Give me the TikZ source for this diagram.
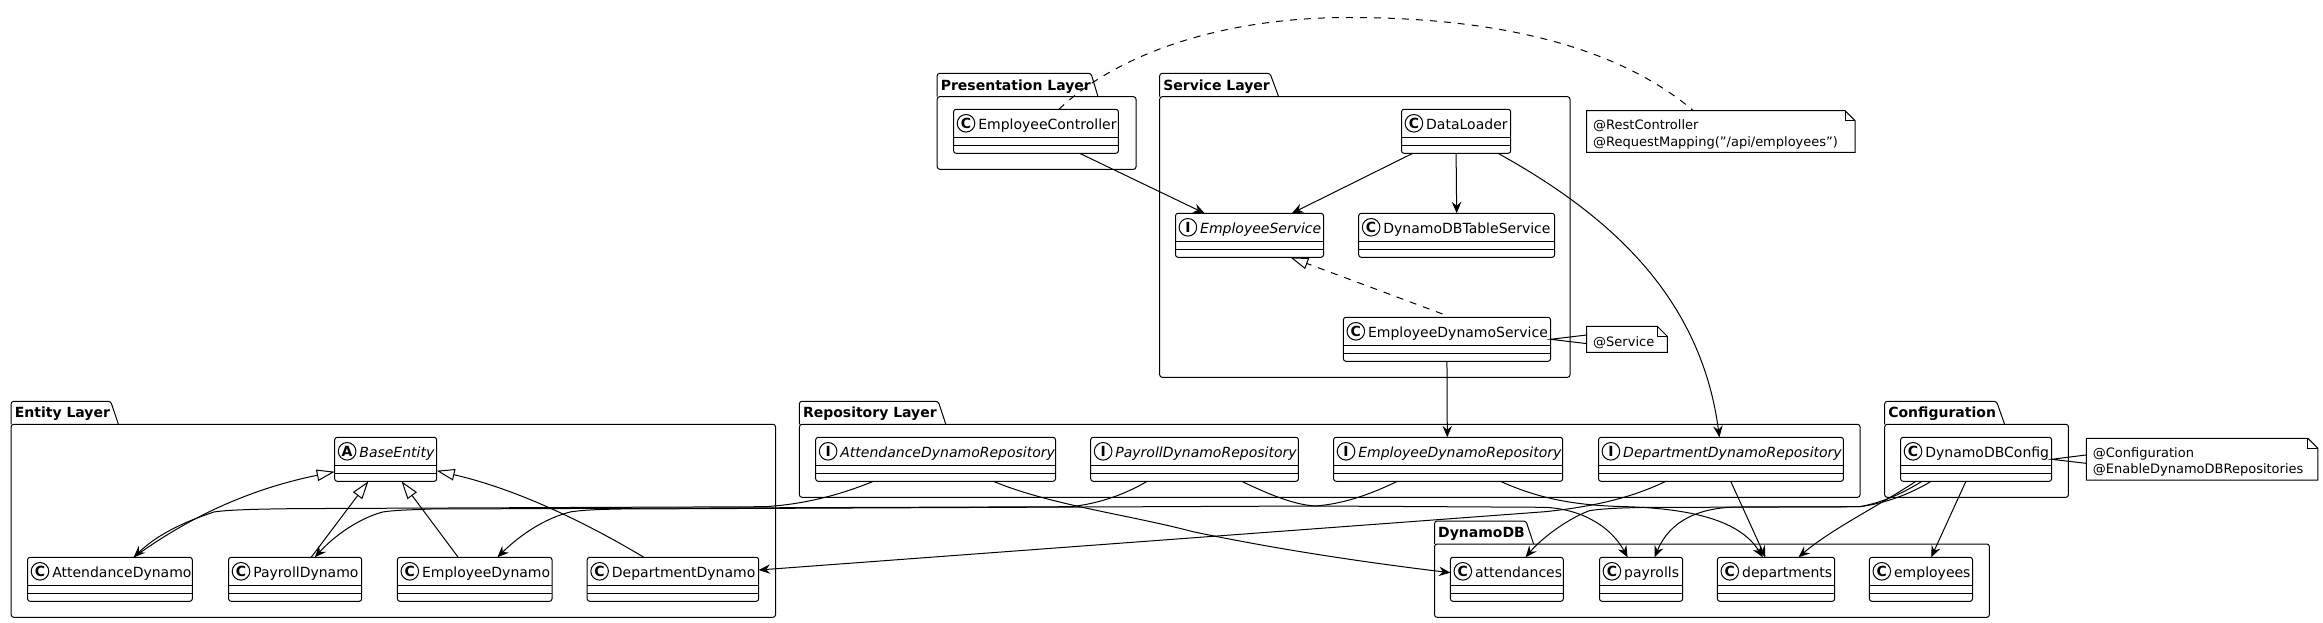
\documentclass[tikz,border=0pt]{standalone}
\usepackage{fontspec}
\setmainfont{DejaVu Sans}
\usetikzlibrary{arrows.meta}
\newcommand{\fclass}{\fontsize{14}{16}\selectfont}
\newcommand{\fnote}{\fontsize{13}{16.5}\selectfont}
\tikzset{
  umlline/.style={line width=1pt,black},
  classbox/.style={umlline,draw,fill=white,rectangle,rounded corners=2.5pt,inner sep=0pt,outer sep=0pt,minimum height=44pt,anchor=north west},
  letterc/.style={umlline,draw,fill=white,circle,inner sep=0pt,outer sep=0pt,minimum size=17.6pt,font=\bfseries\fontsize{14}{14}\selectfont},
  labeltext/.style={inner sep=0pt,outer sep=0pt,anchor=base west},
  noderect/.style={rectangle,inner sep=0pt,outer sep=0pt,anchor=north west},
  dep/.style={umlline,-{Stealth[length=11.5pt,width=9.5pt,inset=4pt]}},
  inh/.style={umlline,-{Triangle[open,fill=white,length=18pt,width=11.5pt]}},
  dashline/.style={umlline,dash pattern=on 7pt off 7pt},
}
\newcommand{\umlclass}[7]{%
  \pgfmathsetmacro{\boxw}{#3-#2}
  \node[classbox,minimum width=\boxw pt] (#1) at (#2,#4) {};
  \draw[umlline] ([yshift=-28pt]#1.north west) -- ([yshift=-28pt]#1.north east);
  \draw[umlline] ([yshift=-36pt]#1.north west) -- ([yshift=-36pt]#1.north east);
  \node[letterc] (#1-l) at ([xshift=12.4pt,yshift=-14pt]#1.north west) {#5};
  \node[labeltext] (#1-t) at ([xshift=24.7pt,yshift=-20pt]#1.north west) {\fclass#6{}#7};
}
% name, left, right, tabtop, bodytop, bottom, tab right top, tab right bottom, title
\newcommand{\umlpkg}[9]{%
  \pgfmathsetmacro{\boxw}{#3-#2}
  \pgfmathsetmacro{\boxh}{#6-#5}
  \node[noderect,umlline,draw,rounded corners=2.5pt,minimum width=\boxw pt,minimum height=\boxh pt] (#1) at (#2,#5) {};
  \draw[umlline,rounded corners=2.5pt] (#2,#5) -- (#2,#4) -- (#7,#4) -- (#8,#5);
  \node[labeltext] (#1-t) at (#2+3.6,#5-6.4) {\fclass\bfseries #9};
}
% name, left, right, top, bottom, text
\newcommand{\umlnote}[6]{%
  \pgfmathsetmacro{\boxw}{#3-#2}
  \pgfmathsetmacro{\boxh}{#5-#4}
  \node[noderect,minimum width=\boxw pt,minimum height=\boxh pt] (#1) at (#2,#4) {};
  \draw[umlline,line join=miter] (#1.north west) -- ([xshift=-10pt]#1.north east) -- ([yshift=-10pt]#1.north east) -- (#1.south east) -- (#1.south west) -- cycle;
  \draw[umlline,line join=miter] ([xshift=-10pt]#1.north east) -- ([xshift=-10pt,yshift=-10pt]#1.north east) -- ([yshift=-10pt]#1.north east);
  \node[anchor=west,inner sep=0pt,outer sep=0pt,align=left,font=\fnote] (#1-t) at ([xshift=6.5pt,yshift=-3pt]#1.west) {#6};
}
\begin{document}
\begin{tikzpicture}[x=1pt,y=-1pt]
\useasboundingbox (0,0) rectangle (2323,623);
\fill[white] (0,0) rectangle (2323,623);

% packages
\umlpkg{pres}{937.2}{1136}{73.3}{96.7}{169.3}{1091}{1098}{Presentation Layer}
\umlpkg{serv}{1159.7}{1570}{73.3}{96.7}{377.3}{1270}{1278.6}{Service Layer}
\umlpkg{enti}{11.2}{775.5}{401.3}{424.3}{617.3}{110.7}{118.4}{Entity Layer}
\umlpkg{repo}{799.4}{1860}{401.3}{424.3}{497.3}{938.2}{945.8}{Repository Layer}
\umlpkg{conf}{1884.7}{2068.4}{401.3}{424.3}{497.3}{1996.5}{2004.6}{Configuration}
\umlpkg{dyna}{1434.6}{1989.3}{521}{544}{617.3}{1526}{1533.6}{DynamoDB}

% classes
\umlclass{ec}{953.6}{1118.4}{109.3}{C}{}{EmployeeController}
\umlclass{dl}{1401.5}{1510.7}{109.3}{C}{}{DataLoader}
\umlclass{es}{1175.5}{1323.5}{213.3}{I}{\itshape}{EmployeeService}
\umlclass{dbt}{1358.7}{1554.6}{213.3}{C}{}{DynamoDBTableService}
\umlclass{eds}{1343.4}{1550.5}{317.3}{C}{}{EmployeeDynamoService}
\umlclass{base}{334.7}{436.7}{437.3}{A}{\itshape}{BaseEntity}
\umlclass{attd}{27.6}{192.3}{557.3}{C}{}{AttendanceDynamo}
\umlclass{payd}{228.6}{361.7}{557.3}{C}{}{PayrollDynamo}
\umlclass{empd}{397.4}{552}{557.3}{C}{}{EmployeeDynamo}
\umlclass{depd}{587.2}{758.7}{557.3}{C}{}{DepartmentDynamo}
\umlclass{adr}{815.7}{1055.5}{437.3}{I}{\itshape}{AttendanceDynamoRepository}
\umlclass{pdr}{1090.7}{1298.4}{437.3}{I}{\itshape}{PayrollDynamoRepository}
\umlclass{edr}{1333.6}{1562.7}{437.3}{I}{\itshape}{EmployeeDynamoRepository}
\umlclass{ddr}{1598.5}{1843.4}{437.3}{I}{\itshape}{DepartmentDynamoRepository}
\umlclass{cfg}{1900.6}{2051.6}{437.3}{C}{}{DynamoDBConfig}
\umlclass{atts}{1450.4}{1563.3}{557.3}{C}{}{attendances}
\umlclass{payr}{1599.5}{1682.7}{557.3}{C}{}{payrolls}
\umlclass{dept}{1717.4}{1834.7}{557.3}{C}{}{departments}
\umlclass{empl}{1869.4}{1972.5}{557.3}{C}{}{employees}

% notes
\umlnote{nrest}{1586.7}{1855}{110.7}{152.3}{@RestController\\@RequestMapping("/api/employees")}
\umlnote{nserv}{1586.7}{1667.3}{326.3}{352.3}{@Service}
\umlnote{ncfg}{2086.3}{2317.9}{438.3}{480}{@Configuration\\@EnableDynamoDBRepositories}

% note links
\draw[dashline] ([xshift=105.4pt]ec.north west) .. controls (1110,60) and (1210,17.5) .. (1349,17.5) .. controls (1480,17.5) and (1610,40) .. ([xshift=106.7pt]nrest.north west);
\draw[umlline,line join=miter] ([yshift=4.3pt]nserv.west) -- (eds.east) -- ([yshift=-4.3pt]nserv.west);
\draw[umlline,line join=miter] ([yshift=4.2pt]ncfg.west) -- (cfg.east) -- ([yshift=-4.2pt]ncfg.west);

% service connectors
\draw[dep] ([xshift=126pt]ec.south west) -- ([xshift=29.1pt]es.north west);
\draw[dep] ([xshift=11.3pt]dl.south west) -- ([xshift=116.3pt]es.north west);
\draw[dep] (dl.south) -- (dbt.north);
\draw[inh,dash pattern=on 7pt off 7pt] ([xshift=-4.4pt,yshift=3.3pt]eds.north) -- ([xshift=114.8pt]es.south west);
\draw[dep] (eds.south) -- ([xshift=113.7pt]edr.north west);
\draw[dep] ([xshift=96.5pt]dl.south west) .. controls (1600,210) and (1700,290) .. ([xshift=120.9pt]ddr.north west);

% inheritance
\draw[inh] ([xshift=106.1pt]attd.north west) .. controls (185,520) and (245,490) .. ([yshift=-34.4pt]base.north west);
\draw[inh] ([xshift=82.6pt]payd.north west) -- ([xshift=33.7pt]base.south west);
\draw[inh] ([xshift=60.8pt]empd.north west) -- ([xshift=66.8pt]base.south west);
\draw[inh] ([xshift=56.7pt]depd.north west) .. controls (590,525) and (520,490) .. ([yshift=-33.4pt]base.north east);

% repository to entity
\draw[dep] ([xshift=57.7pt]adr.south west) .. controls (835,497) and (800,504.5) .. (765,506.7) -- (300,508.6) .. controls (255,509) and (225,510) .. (214,512) .. controls (190,520) and (160,532) .. ([xshift=106.1pt]attd.north west);
\draw[dep] ([xshift=56.6pt]pdr.south west) .. controls (1120,497) and (1095,504) .. (1070.8,506.7) -- (430,509) .. controls (410,510) and (395,510) .. (382.7,512) .. controls (360,518) and (335,535) .. ([xshift=86.2pt]payd.north west);
\draw[dep] ([xshift=63.7pt]edr.south west) .. controls (1365,497) and (1340,504) .. (1315.7,506) -- (620,509) .. controls (595,509.5) and (585,510) .. (571.4,511.7) .. controls (545,518) and (520,535) .. ([xshift=100pt]empd.north west);
\draw[dep] ([xshift=67.4pt]ddr.south west) .. controls (1635,496) and (1600,506) .. (1545,511.7) -- ([yshift=9.3pt]depd.east);

% repository to table
\draw[dep] ([xshift=177.6pt]adr.south west) .. controls (1050,505) and (1130,515) .. (1193,531.7) .. controls (1280,550) and (1370,563) .. ([yshift=6.6pt]atts.west);
\draw[dep] ([xshift=151pt]pdr.south west) .. controls (1270,495) and (1295,505) .. (1315.7,506) -- (1545,507.3) .. controls (1580,509) and (1610,525) .. ([xshift=28.1pt]payr.north west);
\draw[dep] ([xshift=166.8pt]edr.south west) .. controls (1535,497) and (1570,505) .. (1620,506.5) .. controls (1690,508) and (1740,520) .. ([xshift=45.4pt]dept.north west);
\draw[dep] ([xshift=132.2pt]ddr.south west) -- ([xshift=47.9pt]dept.north west);

% config to table
\draw[dep] ([xshift=21.4pt]cfg.south west) .. controls (1900,495) and (1880,503) .. (1859.7,506.7) -- (1640,507.5) .. controls (1615,508) and (1600,509) .. (1589.3,510.7) .. controls (1565,520) and (1540,540) .. ([xshift=75.2pt]atts.north west);
\draw[dep] ([xshift=30.6pt]cfg.south west) .. controls (1905,497) and (1880,504) .. (1859.7,506.7) -- (1740,507) .. controls (1700,507) and (1670,520) .. ([xshift=55.1pt]payr.north west);
\draw[dep] ([xshift=15.3pt]cfg.south west) .. controls (1880,505) and (1830,530) .. ([xshift=81.1pt]dept.north west);
\draw[dep] ([xshift=65.3pt]cfg.south west) -- ([xshift=61.8pt]empl.north west);
\end{tikzpicture}
\end{document}
